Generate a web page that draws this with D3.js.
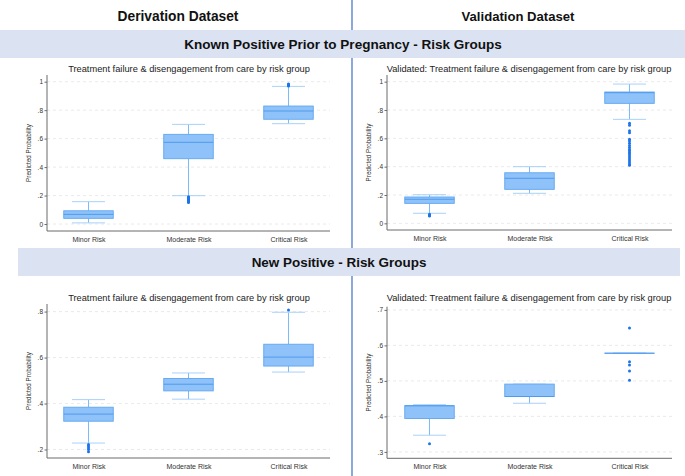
<!DOCTYPE html>
<html><head><meta charset="utf-8">
<script src="https://cdn.jsdelivr.net/npm/d3@7"></script>
<style>body{margin:0;background:#fff}svg{display:block}</style>
</head><body>
<svg id="c" width="685" height="476"></svg>
<script>
// ---- data ----
const categories = ["Minor Risk", "Moderate Risk", "Critical Risk"];
const columnTitles = ["Derivation Dataset", "Validation Dataset"];
const sectionTitles = ["Known Positive Prior to Pregnancy - Risk Groups", "New Positive - Risk Groups"];
const derivTitle = "Treatment failure & disengagement from care by risk group";
const validTitle = "Validated: Treatment failure & disengagement from care by risk group";
const yLabel = "Predicted Probability";

// [lower whisker, q1, median, q3, upper whisker] per category
const knownDerivStats = [[0.008, 0.040, 0.068, 0.093, 0.157], [0.199, 0.459, 0.574, 0.630, 0.700], [0.705, 0.736, 0.794, 0.829, 0.967]];
const knownDerivOutliers = [[], [0.152, 0.156, 0.160, 0.164, 0.168, 0.172, 0.176, 0.180, 0.184, 0.188, 0.192], [0.970, 0.975, 0.980, 0.984]];
const knownDerivTicks = [0, 0.2, 0.4, 0.6, 0.8, 1];

const knownValidStats = [[0.071, 0.141, 0.170, 0.186, 0.202], [0.212, 0.240, 0.318, 0.357, 0.400], [0.734, 0.847, 0.922, 0.927, 0.983]];
const knownValidOutliers = [[0.051, 0.056, 0.060, 0.065], [], [0.706, 0.692, 0.654, 0.640, 0.593, 0.581, 0.565, 0.550, 0.536, 0.522, 0.513, 0.500, 0.489, 0.475, 0.461, 0.447, 0.433, 0.419, 0.410]];
const knownValidTicks = [0, 0.2, 0.4, 0.6, 0.8, 1];

const newDerivStats = [[0.228, 0.323, 0.354, 0.384, 0.417], [0.419, 0.455, 0.484, 0.509, 0.533], [0.537, 0.563, 0.602, 0.658, 0.797]];
const newDerivOutliers = [[0.222, 0.215, 0.208, 0.200, 0.190], [], [0.807]];
const newDerivTicks = [0.2, 0.4, 0.6, 0.8];

const newValidStats = [[0.347, 0.394, 0.430, 0.430, 0.433], [0.437, 0.456, 0.456, 0.491, 0.491], [0.578, 0.578, 0.578, 0.578, 0.578]];
const newValidOutliers = [[0.323], [], [0.649, 0.554, 0.545, 0.528, 0.502]];
const newValidTicks = [0.3, 0.4, 0.5, 0.6, 0.7];

// ---- layout / style ----
const svg = d3.select("#c");
const FONT = "'Liberation Sans', Arial, Helvetica, sans-serif";
const C = {band: "#dbe3f2", divider: "#4f79c8", boxFill: "#8fc2f8", boxStroke: "#5fa6f2", median: "#4f9aee",
  whisker: "#7dbaf6", cap: "#a9d1fb", outlier: "#1c74ea", axis: "#6b6b6b", grid: "#e4e4e4", text: "#222"};

// divider
svg.append("line").attr("x1", 352).attr("x2", 352).attr("y1", 0).attr("y2", 476)
  .attr("stroke", C.divider).attr("stroke-width", 1.3);

// bands
svg.append("rect").attr("x", 0).attr("y", 30).attr("width", 685).attr("height", 28).attr("fill", C.band);
svg.append("rect").attr("x", 18).attr("y", 248).attr("width", 662).attr("height", 28).attr("fill", C.band);

function fitText(sel, width) {
  const w = sel.node().getComputedTextLength();
  const fs = parseFloat(sel.attr("font-size"));
  sel.attr("font-size", fs * width / w);
}

const h1 = svg.append("text").attr("x", 178).attr("y", 21).attr("text-anchor", "middle")
  .attr("font-family", FONT).attr("font-weight", "bold").attr("font-size", 13).attr("fill", "#111").text(columnTitles[0]);
fitText(h1, 121);
const h2 = svg.append("text").attr("x", 518).attr("y", 21).attr("text-anchor", "middle")
  .attr("font-family", FONT).attr("font-weight", "bold").attr("font-size", 13).attr("fill", "#111").text(columnTitles[1]);
fitText(h2, 113);
const s1 = svg.append("text").attr("x", 343).attr("y", 49).attr("text-anchor", "middle")
  .attr("font-family", FONT).attr("font-weight", "bold").attr("font-size", 14).attr("fill", "#111").text(sectionTitles[0]);
fitText(s1, 318);
const s2 = svg.append("text").attr("x", 339).attr("y", 267).attr("text-anchor", "middle")
  .attr("font-family", FONT).attr("font-weight", "bold").attr("font-size", 14).attr("fill", "#111").text(sectionTitles[1]);
fitText(s2, 175);

const fmt = d => { const s = d3.format(".1f")(d); return s === "0.0" ? "0" : s === "1.0" ? "1" : s.replace(/^0/, ""); };

function panel(cfg) {
  const g = svg.append("g");
  const x = d3.scalePoint().domain(categories).range([cfg.x0, cfg.x1]).padding(cfg.pad);
  const y = d3.scaleLinear().domain(cfg.ydom).range([cfg.y1, cfg.y0]);
  const bw = 49.5, capW = 33;

  // title
  const t = g.append("text").attr("x", cfg.tx).attr("y", cfg.ty).attr("text-anchor", "middle")
    .attr("font-family", FONT).attr("font-size", 10).attr("fill", C.text).text(cfg.title);
  fitText(t, cfg.tw);

  // grid
  g.append("g").selectAll("line").data(cfg.ticks).join("line")
    .attr("x1", cfg.x0).attr("x2", cfg.x1).attr("y1", d => y(d)).attr("y2", d => y(d))
    .attr("stroke", C.grid).attr("stroke-width", 0.8).attr("stroke-dasharray", "3,3");

  // y axis
  const ya = g.append("g").attr("transform", `translate(${cfg.x0},0)`)
    .call(d3.axisLeft(y).tickValues(cfg.ticks).tickFormat(fmt).tickSize(2.5).tickPadding(1.5));
  ya.select(".domain").attr("stroke", C.axis).attr("d", `M0,${cfg.y0}V${cfg.y1}`);
  ya.selectAll(".tick line").attr("stroke", C.axis);
  ya.selectAll(".tick text").attr("font-family", FONT).attr("font-size", 6.5).attr("fill", "#333");

  // x axis
  const xa = g.append("g").attr("transform", `translate(0,${cfg.y1})`)
    .call(d3.axisBottom(x).tickSize(0).tickPadding(6));
  xa.select(".domain").attr("stroke", C.axis).attr("d", `M${cfg.x0},0H${cfg.x1}`);
  xa.selectAll(".tick text").attr("font-family", FONT).attr("font-size", 7).attr("fill", "#333");

  // y label
  g.append("text").attr("transform", `translate(${cfg.lx},${(cfg.y0 + cfg.y1) / 2}) rotate(-90)`)
    .attr("text-anchor", "middle").attr("dy", "0.35em").attr("font-family", FONT).attr("font-size", 6.3)
    .attr("fill", "#333").text(yLabel);

  // boxes
  categories.forEach((c, i) => {
    const [lo, q1, med, q3, hi] = cfg.stats[i];
    const cx = x(c);
    const bg = g.append("g");
    bg.append("line").attr("x1", cx).attr("x2", cx).attr("y1", y(q3)).attr("y2", y(hi)).attr("stroke", C.whisker).attr("stroke-width", 1);
    bg.append("line").attr("x1", cx).attr("x2", cx).attr("y1", y(q1)).attr("y2", y(lo)).attr("stroke", C.whisker).attr("stroke-width", 1);
    [lo, hi].forEach(v => bg.append("line").attr("x1", cx - capW / 2).attr("x2", cx + capW / 2)
      .attr("y1", y(v)).attr("y2", y(v)).attr("stroke", C.cap).attr("stroke-width", 1));
    bg.append("rect").attr("x", cx - bw / 2).attr("width", bw).attr("y", y(q3)).attr("height", Math.max(0.01, y(q1) - y(q3)))
      .attr("fill", C.boxFill).attr("stroke", C.boxStroke).attr("stroke-width", 0.9);
    bg.append("line").attr("x1", cx - bw / 2).attr("x2", cx + bw / 2).attr("y1", y(med)).attr("y2", y(med))
      .attr("stroke", C.median).attr("stroke-width", 1);
    bg.selectAll("circle").data(cfg.outliers[i]).join("circle")
      .attr("cx", cx).attr("cy", d => y(d)).attr("r", 1.5).attr("fill", C.outlier);
  });
}

panel({x0: 47, x1: 330, y0: 75, y1: 231, pad: 0.415, ydom: [-0.049, 1.047], ticks: knownDerivTicks,
  stats: knownDerivStats, outliers: knownDerivOutliers, title: derivTitle, tx: 189, ty: 72, tw: 242, lx: 29});
panel({x0: 387, x1: 672, y0: 75, y1: 230, pad: 0.425, ydom: [-0.047, 1.047], ticks: knownValidTicks,
  stats: knownValidStats, outliers: knownValidOutliers, title: validTitle, tx: 529, ty: 71.5, tw: 285, lx: 369});
panel({x0: 47, x1: 330, y0: 304, y1: 458, pad: 0.415, ydom: [0.163, 0.833], ticks: newDerivTicks,
  stats: newDerivStats, outliers: newDerivOutliers, title: derivTitle, tx: 189, ty: 300.5, tw: 242, lx: 29});
panel({x0: 387, x1: 672, y0: 306.7, y1: 458.3, pad: 0.425, ydom: [0.282, 0.709], ticks: newValidTicks,
  stats: newValidStats, outliers: newValidOutliers, title: validTitle, tx: 529, ty: 301, tw: 285, lx: 369});
</script>
</body></html>
